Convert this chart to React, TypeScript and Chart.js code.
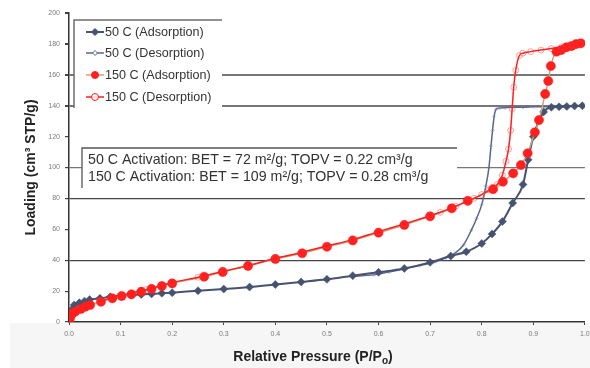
import React, { useEffect, useRef } from "react";
import { Chart, registerables } from "chart.js";

Chart.register(...registerables);

// ---- Data ----
const ads50X = [0.002, 0.005, 0.01, 0.02, 0.03, 0.04, 0.06, 0.08, 0.10, 0.12, 0.14, 0.16, 0.18, 0.20, 0.25, 0.30, 0.35, 0.40, 0.45, 0.50, 0.55, 0.60, 0.65, 0.70, 0.74, 0.77, 0.80, 0.82, 0.84, 0.86, 0.88, 0.89, 0.90, 0.92, 0.935, 0.95, 0.965, 0.98, 0.995];
const ads50Y = [5, 8, 11, 12.5, 13.5, 14.5, 15.3, 16.3, 17, 17.5, 17.8, 18.2, 18.6, 19, 20.2, 21.3, 22.6, 24.3, 25.9, 27.6, 30, 32.2, 34.7, 38.6, 42.7, 45.5, 50.8, 57, 65, 77, 89, 105, 120, 136, 139, 139.3, 139.5, 139.8, 140];

const des50X = [0.55, 0.59, 0.62, 0.65, 0.68, 0.71, 0.73, 0.75, 0.765, 0.78, 0.79, 0.80, 0.808, 0.814, 0.818, 0.821, 0.824, 0.828, 0.835, 0.845, 0.86, 0.88, 0.90, 0.92, 0.94, 0.96, 0.98, 0.995];
const des50Y = [29.5, 30.5, 32.3, 34.3, 36.5, 39, 41.5, 45, 50, 59.5, 67, 76, 88, 100, 114, 124, 133, 137.8, 138.5, 138.7, 139, 139, 139.3, 139.4, 139.6, 139.8, 140, 140];

const ads150X = [0.0005, 0.001, 0.002, 0.004, 0.007, 0.012, 0.023, 0.032, 0.041, 0.062, 0.084, 0.102, 0.121, 0.14, 0.16, 0.18, 0.20, 0.262, 0.298, 0.347, 0.40, 0.452, 0.50, 0.55, 0.60, 0.65, 0.70, 0.742, 0.773, 0.822, 0.841, 0.861, 0.876, 0.889, 0.903, 0.911, 0.923, 0.929, 0.934, 0.945, 0.954, 0.964, 0.974, 0.983, 0.992];
const ads150Y = [0.5, 1.5, 3, 4.5, 5.8, 6.7, 8.4, 9.9, 11, 13.1, 15.3, 16.8, 17.9, 19.6, 21.4, 23.3, 25, 29.3, 32.4, 36.3, 40.8, 44.5, 48.7, 52.8, 57.8, 62.8, 68.4, 73.6, 78.4, 86, 90.8, 96.2, 101.6, 109.2, 122.8, 130.7, 147.6, 156, 165.7, 175, 176, 177.8, 178.6, 179.9, 180.4];

const des150X = [0.06, 0.10, 0.15, 0.20, 0.25, 0.30, 0.35, 0.40, 0.45, 0.50, 0.55, 0.60, 0.65, 0.70, 0.72, 0.75, 0.77, 0.785, 0.80, 0.815, 0.83, 0.840, 0.847, 0.852, 0.856, 0.859, 0.862, 0.866, 0.873, 0.88, 0.895, 0.915, 0.935, 0.955, 0.975, 0.99];
const des150Y = [13.5, 17, 21, 25.5, 29, 32.8, 36.8, 41.2, 45, 49.2, 53.3, 58.5, 63.5, 68.8, 71, 75, 78, 80, 82.5, 85.5, 89, 95, 104, 112, 124, 138, 152, 163, 172.5, 174, 175, 176, 177, 178, 179, 180];

const seriesLabels = ["50 C (Adsorption)", "50 C (Desorption)", "150 C (Adsorption)", "150 C (Desorption)"];
const noteLines = [
  "50 C Activation: BET = 72 m\u00B2/g; TOPV = 0.22 cm\u00B3/g",
  "150 C Activation: BET = 109 m\u00B2/g; TOPV = 0.28 cm\u00B3/g",
];
const yTitle = "Loading (cm\u00B3 STP/g)";
const xTitleMain = "Relative Pressure (P/P";
const xTitleSub = "o";
const xTitleEnd = ")";
const gridValues = [40, 80, 100, 140, 160];

const toPts = (xs: number[], ys: number[]) => xs.map((x, i) => ({ x, y: ys[i] }));

const C_DARK = "#46526f";
const C_DES50 = "#58678c";
const C_TAN = "#c9a47c";
const C_RED = "#ff1f1f";
const FONT = "'Liberation Sans', Arial, sans-serif";

export default function App() {
  const ref = useRef<HTMLCanvasElement | null>(null);

  useEffect(() => {
    document.body.style.margin = "0";
    const canvas = ref.current!;
    const deco = {
      id: "deco",
      beforeDraw(chart: any) {
        const ctx = chart.ctx;
        ctx.save();
        ctx.fillStyle = "#ffffff";
        ctx.fillRect(0, 0, chart.width, chart.height);
        ctx.fillStyle = "#f6f6f6";
        ctx.fillRect(10, chart.chartArea.bottom + 1, chart.width - 10, chart.height - chart.chartArea.bottom);
        ctx.restore();
      },
      afterDraw(chart: any) {
        const ctx = chart.ctx;
        const ca = chart.chartArea;
        ctx.save();
        // Legend box
        ctx.fillStyle = "#ffffff";
        ctx.fillRect(74, 20, 148, 88);
        ctx.strokeStyle = "#6e6e6e";
        ctx.lineWidth = 1.5;
        ctx.beginPath();
        ctx.moveTo(222, 20);
        ctx.lineTo(74, 20);
        ctx.lineTo(74, 108);
        ctx.stroke();
        const rows = [32, 53, 75, 97];
        const lineCols = [C_DARK, C_DES50, C_TAN, C_RED];
        ctx.font = `12.6px ${FONT}`;
        ctx.textBaseline = "middle";
        rows.forEach((ry, i) => {
          ctx.strokeStyle = lineCols[i];
          ctx.lineWidth = i === 0 ? 2 : 1.5;
          ctx.beginPath();
          ctx.moveTo(86, ry);
          ctx.lineTo(104, ry);
          ctx.stroke();
          const cx = 95;
          if (i === 0 || i === 1) {
            const r = i === 0 ? 3.5 : 2.5;
            ctx.beginPath();
            ctx.moveTo(cx, ry - r);
            ctx.lineTo(cx + r, ry);
            ctx.lineTo(cx, ry + r);
            ctx.lineTo(cx - r, ry);
            ctx.closePath();
            ctx.fillStyle = i === 0 ? C_DARK : "#ffffff";
            ctx.fill();
            ctx.strokeStyle = lineCols[i];
            ctx.lineWidth = 1;
            ctx.stroke();
          } else {
            ctx.beginPath();
            ctx.arc(cx, ry, 3.5, 0, Math.PI * 2);
            ctx.fillStyle = i === 2 ? C_RED : "rgba(255,255,255,0.8)";
            ctx.fill();
            ctx.strokeStyle = C_RED;
            ctx.lineWidth = 1;
            ctx.stroke();
          }
          ctx.fillStyle = "#333333";
          ctx.textAlign = "left";
          ctx.fillText(seriesLabels[i], 105, ry + 0.5);
        });
        // Note box
        ctx.fillStyle = "#ffffff";
        ctx.fillRect(82, 148, 375, 40);
        ctx.strokeStyle = "#555555";
        ctx.lineWidth = 1.3;
        ctx.beginPath();
        ctx.moveTo(457, 148);
        ctx.lineTo(82, 148);
        ctx.lineTo(82, 188);
        ctx.stroke();
        ctx.fillStyle = "#333333";
        ctx.font = `14.2px ${FONT}`;
        ctx.textAlign = "left";
        ctx.fillText(noteLines[0], 88, 160);
        ctx.fillText(noteLines[1], 88, 177);
        // Y title
        ctx.save();
        ctx.translate(31, (ca.top + ca.bottom) / 2);
        ctx.rotate(-Math.PI / 2);
        ctx.font = `bold 14px ${FONT}`;
        ctx.fillStyle = "#222222";
        ctx.textAlign = "center";
        ctx.textBaseline = "middle";
        ctx.fillText(yTitle, 0, 0);
        ctx.restore();
        // X title
        ctx.font = `bold 14px ${FONT}`;
        const w1 = ctx.measureText(xTitleMain).width;
        ctx.font = `bold 10px ${FONT}`;
        const w2 = ctx.measureText(xTitleSub).width;
        ctx.font = `bold 14px ${FONT}`;
        const w3 = ctx.measureText(xTitleEnd).width;
        const total = w1 + w2 + w3;
        let sx = 313 - total / 2;
        const ty = 357;
        ctx.fillStyle = "#222222";
        ctx.textAlign = "left";
        ctx.textBaseline = "middle";
        ctx.fillText(xTitleMain, sx, ty);
        sx += w1;
        ctx.font = `bold 10px ${FONT}`;
        ctx.fillText(xTitleSub, sx, ty + 4);
        sx += w2;
        ctx.font = `bold 14px ${FONT}`;
        ctx.fillText(xTitleEnd, sx, ty);
        ctx.restore();
      },
    };

    const chart = new Chart(canvas, {
      type: "scatter",
      data: {
        datasets: [
          {
            label: seriesLabels[3],
            data: toPts(des150X, des150Y),
            showLine: true,
            borderColor: C_RED,
            borderWidth: 1.5,
            pointStyle: "circle",
            pointRadius: 3,
            pointBorderWidth: 0.8,
            pointBorderColor: "rgba(255,60,60,0.6)",
            pointBackgroundColor: "rgba(255,255,255,0)",
            cubicInterpolationMode: "monotone",
            order: 1,
          } as any,
          {
            label: seriesLabels[2],
            data: toPts(ads150X, ads150Y),
            showLine: true,
            borderColor: C_TAN,
            borderWidth: 1.5,
            pointStyle: "circle",
            pointRadius: 4.6,
            pointBorderWidth: 0.5,
            pointBorderColor: C_RED,
            pointBackgroundColor: C_RED,
            cubicInterpolationMode: "monotone",
            order: 2,
          } as any,
          {
            label: seriesLabels[0],
            data: toPts(ads50X, ads50Y),
            showLine: true,
            borderColor: C_DARK,
            borderWidth: 2,
            pointStyle: "rectRot",
            pointRadius: 4,
            pointBorderWidth: 0.5,
            pointBorderColor: C_DARK,
            pointBackgroundColor: C_DARK,
            cubicInterpolationMode: "monotone",
            order: 3,
          } as any,
          {
            label: seriesLabels[1],
            data: toPts(des50X, des50Y),
            showLine: true,
            borderColor: C_DES50,
            borderWidth: 1.5,
            pointStyle: "rectRot",
            pointRadius: 1.8,
            pointBorderWidth: 0.6,
            pointBorderColor: "rgba(120,135,170,0.7)",
            pointBackgroundColor: "rgba(255,255,255,0)",
            cubicInterpolationMode: "monotone",
            order: 4,
          } as any,
        ],
      },
      options: {
        animation: false,
        responsive: false,
        layout: { padding: { top: 13, right: 3, left: 0, bottom: 0 } },
        plugins: { legend: { display: false }, tooltip: { enabled: false } },
        scales: {
          x: {
            type: "linear",
            min: 0,
            max: 1,
            ticks: {
              stepSize: 0.1,
              callback: (v: any) => Number(v).toFixed(1),
              font: { size: 7, family: FONT },
              color: "#7a7a7a",
              padding: 5,
              maxRotation: 0,
            },
            grid: { drawOnChartArea: false, tickLength: 3, tickColor: "#444" },
            border: { color: "#333", width: 1.5 },
            afterFit: (s: any) => {
              s.height = 46;
              s.paddingLeft = 0;
              s.paddingRight = 0;
            },
          },
          y: {
            min: 0,
            max: 200,
            ticks: {
              stepSize: 20,
              font: { size: 7, family: FONT },
              color: "#7a7a7a",
              padding: 5,
            },
            grid: {
              tickLength: 4,
              tickColor: "#444",
              color: (c: any) => (gridValues.includes(c.tick?.value) ? (c.tick.value <= 80 ? "#444" : "#777") : "rgba(0,0,0,0)"),
              lineWidth: (c: any) => (c.tick?.value >= 140 ? 2 : 1.2),
            },
            border: { color: "#333", width: 1.5 },
            afterFit: (s: any) => {
              s.width = 69;
              s.paddingTop = 0;
              s.paddingBottom = 0;
            },
          },
        },
      } as any,
      plugins: [deco],
    });
    return () => chart.destroy();
  }, []);

  return (
    <div style={{ width: 590, height: 368 }}>
      <canvas ref={ref} width={590} height={368} style={{ display: "block", width: 590, height: 368 }} />
    </div>
  );
}
